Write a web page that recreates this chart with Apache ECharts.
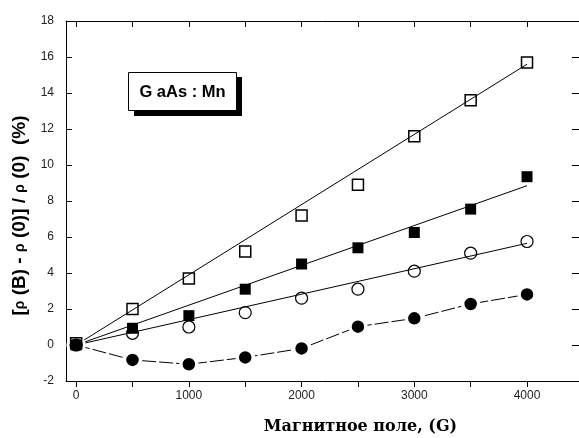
<!DOCTYPE html>
<html>
<head>
<meta charset="utf-8">
<script src="https://cdn.jsdelivr.net/npm/echarts@6/dist/echarts.min.js"></script>
<style>
  html, body { margin: 0; padding: 0; background: #fff; }
  #chart { width: 579px; height: 438px; }
</style>
</head>
<body>
<div id="chart"></div>
<script>
  // magnetic field, G
  var fieldG = [0, 500, 1000, 1500, 2000, 2500, 3000, 3500, 4000];

  // measured points
  var openSquares = [0.1, 2.0, 3.7, 5.2, 7.2, 8.9, 11.6, 13.6, 15.7];
  var filledSquares = [0, 0.93, 1.63, 3.1, 4.5, 5.4, 6.25, 7.55, 9.35];
  var openCircles = [0, 0.65, 1.0, 1.8, 2.6, 3.1, 4.1, 5.1, 5.75];
  var filledCircles = [0, -0.83, -1.07, -0.69, -0.19, 1.02, 1.48, 2.28, 2.81];

  // straight fit lines through the origin
  var fitX = [0, 4000];
  var fitOpenSquares = [0, 15.6];
  var fitFilledSquares = [0, 8.85];
  var fitOpenCircles = [0, 5.65];

  var xTickVals = [0, 500, 1000, 1500, 2000, 2500, 3000, 3500, 4000];
  var xLabelVals = [0, 1000, 2000, 3000, 4000];

  function pairs(xs, ys) {
    return xs.map(function (x, i) { return [x, ys[i]]; });
  }

  var chart = echarts.init(document.getElementById('chart'));

  var tickLabel = {
    color: '#222', fontSize: 12, fontFamily: 'Liberation Sans',
    formatter: function (v) { return String(v); }
  };
  var blackLine = { show: true, onZero: false, lineStyle: { color: '#000', width: 1 } };

  chart.setOption({
    animation: false,
    backgroundColor: '#fff',
    grid: { left: 66, top: 21, width: 514, height: 360, outerBoundsMode: 'none' },
    xAxis: [{
      type: 'value',
      position: 'bottom',
      min: -90,
      max: 4470,
      axisLine: blackLine,
      axisTick: { show: true, inside: false, length: 6, customValues: xTickVals, lineStyle: { color: '#000' } },
      axisLabel: Object.assign({ margin: 9, customValues: xLabelVals }, tickLabel),
      splitLine: { show: false },
      name: 'Магнитное поле, (G)',
      nameLocation: 'middle',
      nameGap: 38,
      nameTextStyle: {
        fontFamily: 'DejaVu Serif', fontWeight: 'bold', fontSize: 16, color: '#000',
        padding: [0, 0, 0, 75]
      }
    }, {
      type: 'value',
      position: 'top',
      min: -90,
      max: 4470,
      axisLine: blackLine,
      axisTick: { show: true, inside: true, length: 6, customValues: xTickVals, lineStyle: { color: '#000' } },
      axisLabel: { show: false },
      splitLine: { show: false }
    }],
    yAxis: [{
      type: 'value',
      position: 'left',
      min: -2,
      max: 18,
      interval: 2,
      axisLine: blackLine,
      axisTick: { show: true, inside: true, length: 6, lineStyle: { color: '#000' } },
      axisLabel: Object.assign({ margin: 12 }, tickLabel),
      splitLine: { show: false },
      name: '[{r|ρ} (B) - {r|ρ} (0)] / {r|ρ} (0)  (%)',
      nameLocation: 'middle',
      nameGap: 28,
      nameTextStyle: {
        fontFamily: 'Liberation Sans', fontWeight: 'bold', fontSize: 19, color: '#000',
        padding: [0, 29, 0, 0],
        rich: {
          r: { fontFamily: 'Liberation Sans', fontSize: 14, color: '#000' }
        }
      }
    }, {
      type: 'value',
      position: 'right',
      min: -2,
      max: 18,
      interval: 2,
      axisLine: blackLine,
      axisTick: { show: true, inside: true, length: 8, lineStyle: { color: '#000' } },
      axisLabel: { show: false },
      splitLine: { show: false }
    }],
    graphic: [{
      type: 'rect',
      shape: { x: 134, y: 77, width: 108, height: 39 },
      style: { fill: '#000' },
      z: 100
    }, {
      type: 'rect',
      shape: { x: 128.5, y: 72.5, width: 108, height: 38 },
      style: { fill: '#fff', stroke: '#000', lineWidth: 1 },
      z: 101
    }, {
      type: 'text',
      x: 182.5,
      y: 92,
      style: {
        text: 'G aAs : Mn',
        fill: '#000',
        font: 'bold 16.5px "Liberation Sans"',
        align: 'center',
        verticalAlign: 'middle'
      },
      z: 102
    }],
    series: [{
      type: 'line',
      data: pairs(fitX, fitOpenSquares),
      showSymbol: false,
      lineStyle: { color: '#000', width: 1 },
      z: 2
    }, {
      type: 'line',
      data: pairs(fitX, fitFilledSquares),
      showSymbol: false,
      lineStyle: { color: '#000', width: 1 },
      z: 2
    }, {
      type: 'line',
      data: pairs(fitX, fitOpenCircles),
      showSymbol: false,
      lineStyle: { color: '#000', width: 1 },
      z: 2
    }, {
      type: 'line',
      data: pairs(fieldG, filledCircles),
      symbol: 'circle',
      symbolSize: 16,
      showAllSymbol: true,
      lineStyle: { color: '#000', width: 1, type: [14, 3] },
      itemStyle: { color: '#000', borderColor: '#fff', borderWidth: 3.5 },
      z: 3
    }, {
      type: 'scatter',
      data: pairs(fieldG, openCircles),
      symbol: 'circle',
      symbolSize: 12,
      itemStyle: { color: 'rgba(0,0,0,0)', borderColor: '#000', borderWidth: 1.2, opacity: 1 },
      z: 4
    }, {
      type: 'scatter',
      data: pairs(fieldG, filledSquares),
      symbol: 'rect',
      symbolSize: 11,
      itemStyle: { color: '#000', opacity: 1 },
      z: 5
    }, {
      type: 'scatter',
      data: pairs(fieldG, openSquares),
      symbol: 'rect',
      symbolSize: 11,
      itemStyle: { color: 'rgba(0,0,0,0)', borderColor: '#000', borderWidth: 1.5, opacity: 1 },
      z: 6
    }]
  });
</script>
</body>
</html>
